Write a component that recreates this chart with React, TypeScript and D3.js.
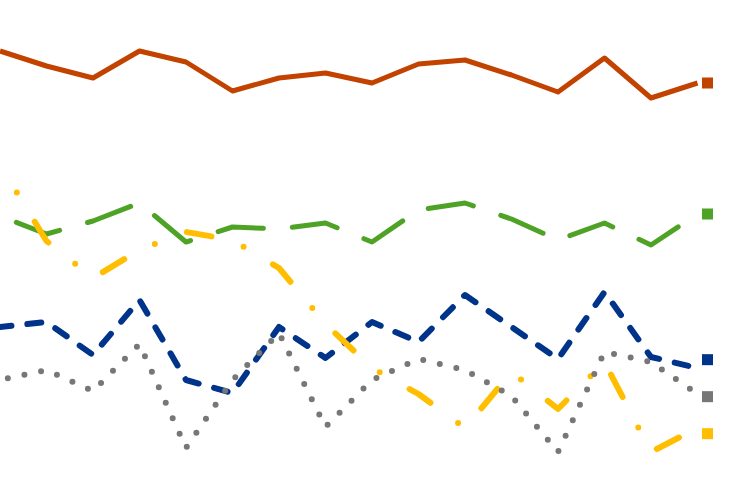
import { useEffect, useRef } from 'react';
import * as d3 from 'd3';

const WIDTH = 750;
const HEIGHT = 500;

// 16 periods, values on a 0–100 scale
const periods = d3.range(16);

const orangeValues = [89.8, 86.8, 84.4, 89.8, 87.6, 81.8, 84.4, 85.4, 83.4, 87.2, 88.0, 85.0, 81.6, 88.4, 80.4, 83.4];
const greenValues = [56.8, 53.2, 55.8, 59.4, 51.6, 54.6, 54.2, 55.4, 51.6, 58.0, 59.4, 56.2, 52.0, 55.4, 51.0, 57.2];
const blueValues = [34.6, 35.6, 29.0, 40.0, 24.0, 21.4, 34.6, 28.4, 35.6, 31.6, 41.0, 34.6, 28.2, 41.6, 28.6, 26.4];
const yellowValues = [67.0, 51.8, 44.4, 50.0, 53.6, 52.0, 46.4, 35.2, 26.4, 21.2, 14.4, 25.6, 18.2, 27.6, 9.6, 14.4];
const grayValues = [24.0, 26.0, 21.8, 31.2, 10.4, 24.0, 33.4, 14.6, 24.0, 28.2, 26.0, 20.8, 9.6, 29.6, 27.6, 21.2];

interface Series {
  key: string;
  values: number[];
  color: string;
  width: number;
  dash: string | null;
  offset: number;
}

// drawing order matters: later series sit on top
const SERIES: Series[] = [
  { key: 'orange', values: orangeValues, color: '#c24200', width: 5, dash: null, offset: 0 },
  { key: 'green', values: greenValues, color: '#4ea226', width: 5, dash: '46,29', offset: 57.5 },
  { key: 'blue', values: blueValues, color: '#00338a', width: 6, dash: '14,16', offset: 2.5 },
  { key: 'yellow', values: yellowValues, color: '#ffbf00', width: 6, dash: '25,34.25,0,34.25', offset: 27 },
  { key: 'gray', values: grayValues, color: '#777777', width: 6, dash: '0,17', offset: 9 },
];

const MARKER_SIZE = 11;
const LABEL_GAP = 37;

// spread end markers so they don't collide (clusters centred on their mean)
function dodge(ys: number[], gap: number): number[] {
  const order = ys.map((y, i) => ({ y, i })).sort((a, b) => a.y - b.y);
  let groups = order.map(o => ({ items: [o], center: o.y }));
  let changed = true;
  while (changed) {
    changed = false;
    for (let k = 0; k < groups.length - 1; k++) {
      const a = groups[k];
      const b = groups[k + 1];
      const aBottom = a.center + ((a.items.length - 1) * gap) / 2;
      const bTop = b.center - ((b.items.length - 1) * gap) / 2;
      if (bTop - aBottom < gap) {
        const items = [...a.items, ...b.items];
        const center = d3.mean(items, d => d.y)!;
        groups.splice(k, 2, { items, center });
        changed = true;
        break;
      }
    }
  }
  const out = new Array(ys.length).fill(0);
  groups.forEach(g => {
    const start = g.center - ((g.items.length - 1) * gap) / 2;
    g.items.forEach((it, j) => { out[it.i] = start + j * gap; });
  });
  return out;
}

export default function App() {
  const svgRef = useRef<SVGSVGElement>(null);

  useEffect(() => {
    if (!svgRef.current) return;
    const svg = d3.select(svgRef.current);
    svg.selectAll('*').remove();

    const x = d3.scaleLinear().domain([0, 15]).range([0, 697.5]);
    const y = d3.scaleLinear().domain([0, 100]).range([500, 0]);

    const line = d3.line<number>()
      .x((_, i) => x(periods[i]))
      .y(d => y(d));

    const g = svg.append('g');

    SERIES.forEach(s => {
      g.append('path')
        .attr('d', line(s.values))
        .attr('fill', 'none')
        .attr('stroke', s.color)
        .attr('stroke-width', s.width)
        .attr('stroke-linejoin', 'round')
        .attr('stroke-linecap', s.dash ? 'round' : 'butt')
        .attr('stroke-dasharray', s.dash)
        .attr('stroke-dashoffset', s.offset);
    });

    const lastYs = SERIES.map(s => y(s.values[s.values.length - 1]));
    const markerYs = dodge(lastYs, LABEL_GAP);
    const mx = x(periods[periods.length - 1]) + 10;

    g.append('g')
      .selectAll('rect')
      .data(SERIES)
      .join('rect')
      .attr('x', mx - MARKER_SIZE / 2)
      .attr('y', (_, i) => markerYs[i] - MARKER_SIZE / 2)
      .attr('width', MARKER_SIZE)
      .attr('height', MARKER_SIZE)
      .attr('fill', d => d.color);
  }, []);

  return (
    <svg
      ref={svgRef}
      width={WIDTH}
      height={HEIGHT}
      style={{ position: 'absolute', left: 0, top: 0, background: '#ffffff', display: 'block' }}
    />
  );
}
